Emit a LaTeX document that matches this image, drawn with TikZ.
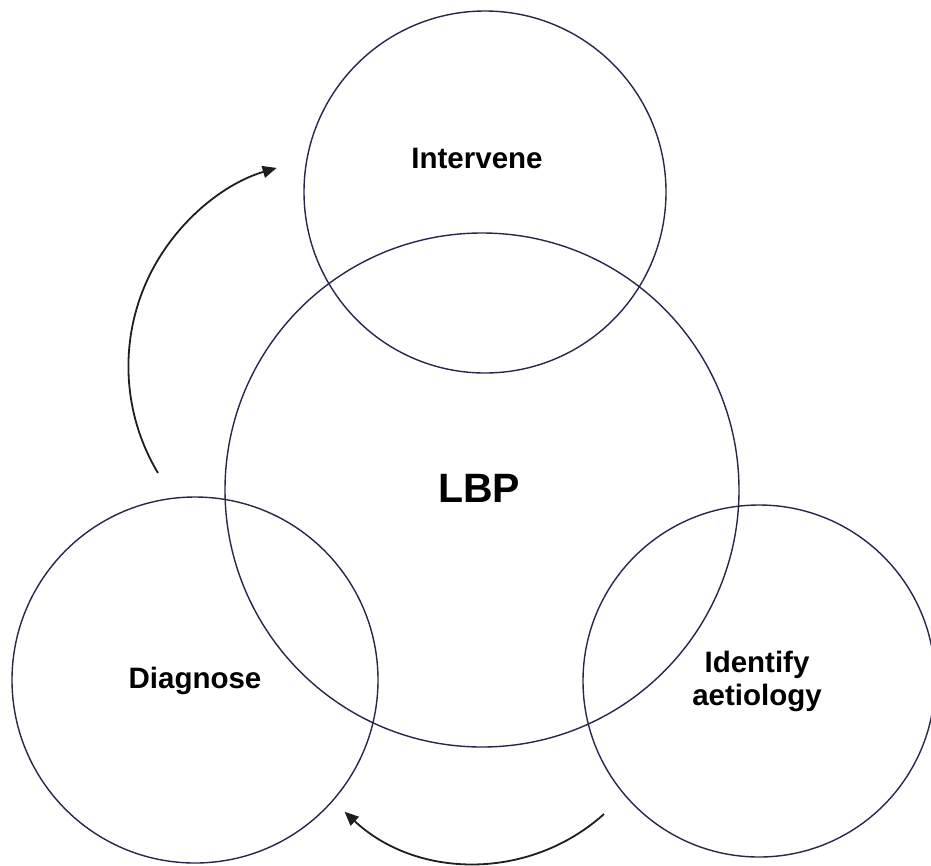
\documentclass[tikz,border=0pt]{standalone}
\usepackage{fontspec}
\setmainfont{Liberation Sans}
\usetikzlibrary{arrows.meta}
\definecolor{ringcol}{RGB}{38,40,72}
\definecolor{arrowcol}{RGB}{30,30,30}
\begin{document}
\begin{tikzpicture}[x=1pt,y=-1pt,
  ring/.style={circle,draw=ringcol,line width=1.4pt,inner sep=0pt,outer sep=0pt,minimum size=#1},
  lbl/.style={inner sep=0pt,anchor=base,font=\bfseries\fontsize{29.5}{33}\selectfont},
  cyclearrow/.style={draw=arrowcol,line width=1.8pt,-{Triangle[length=14pt,width=12pt]}}]
  \useasboundingbox (0,0) rectangle (931,865);
  % the four rings
  \node[ring=362pt] (intervene) at (485,192) {};
  \node[ring=514pt] (lbp) at (482,490) {};
  \node[ring=366pt] (diagnose) at (195,680) {};
  \node[ring=352pt] (identify) at (759,681) {};
  % labels
  \node[lbl] (tIntervene) at (477,168) {Intervene};
  \node[lbl,font=\bfseries\fontsize{41}{42}\selectfont] (tLBP) at (479,502) {LBP};
  \node[lbl] (tDiagnose) at (195,688) {Diagnose};
  \node[lbl,anchor=center,align=center] (tIdentify) at (757,681) {Identify\\aetiology};
  % cycle arrows
  \coordinate (upStart) at (158,473);
  \coordinate (lowStart) at (604,814);
  \draw[cyclearrow] (upStart) arc[start angle=149,end angle=253.5,radius=207];
  \draw[cyclearrow] (lowStart) arc[start angle=48,end angle=133,radius=192];
\end{tikzpicture}
\end{document}
